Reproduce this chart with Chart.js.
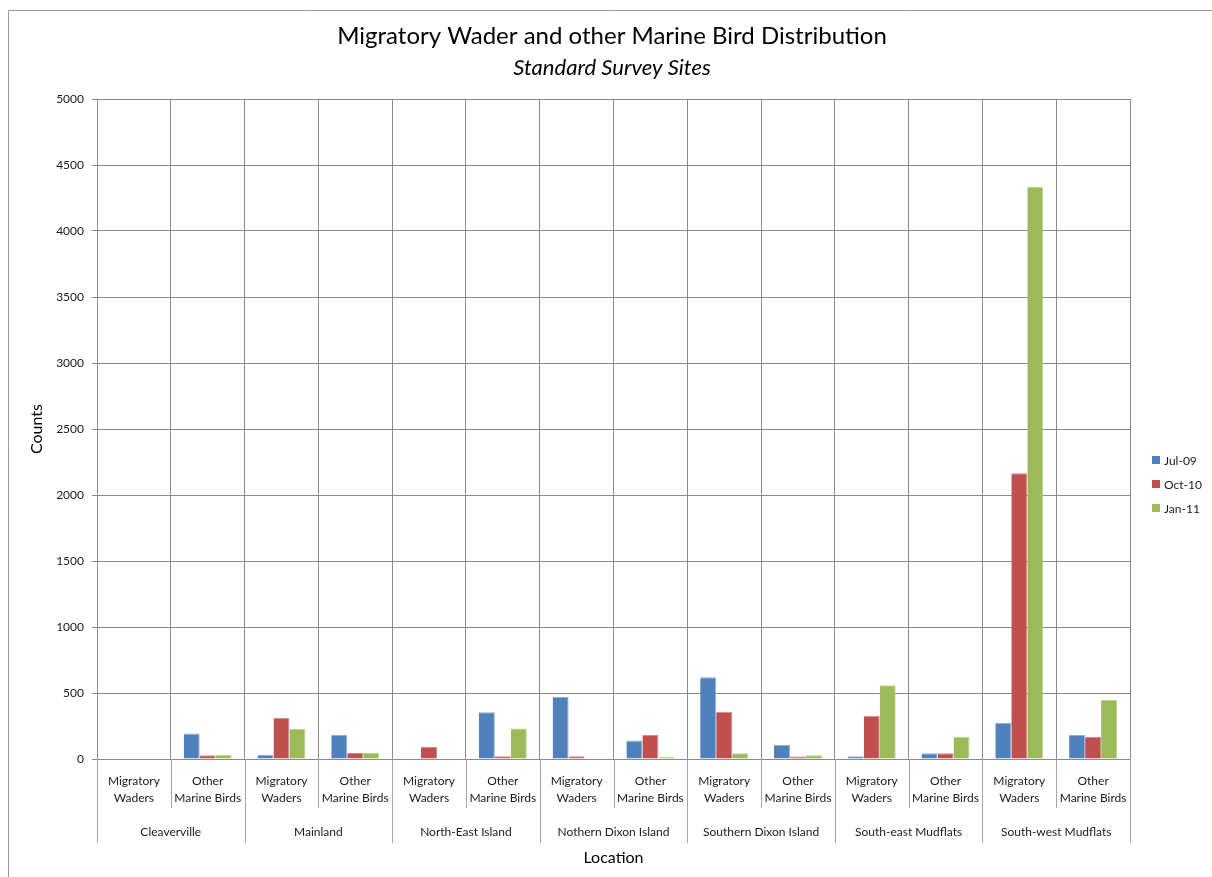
<!DOCTYPE html>
<html>
<head>
<meta charset="utf-8">
<script src="https://cdn.jsdelivr.net/npm/chart.js@4.4.1/dist/chart.umd.min.js"></script>
<style>
  html, body { margin: 0; padding: 0; background: #fff; overflow: hidden; }
  #wrap { width: 1212px; height: 877px; position: relative; }
</style>
</head>
<body>
<div id="wrap"><canvas id="c" width="1212" height="877"></canvas></div>
<script>
// Survey sites (outer category level) and bird groups (inner level)
const locations = ['Cleaverville', 'Mainland', 'North-East Island', 'Nothern Dixon Island',
                   'Southern Dixon Island', 'South-east Mudflats', 'South-west Mudflats'];
const birdGroups = [['Migratory', 'Waders'], ['Other', 'Marine Birds']];

// Survey rounds
const seriesNames = ['Jul-09', 'Oct-10', 'Jan-11'];

// Counts per location/bird group, in category order
const jul09 = [0, 194, 33, 182, 0, 354, 470, 141, 619, 106, 20, 43, 273, 182];
const oct10 = [0, 28, 313, 45, 91, 20, 20, 182, 358, 18, 328, 43, 2164, 167];
const jan11 = [0, 33, 227, 45, 0, 232, 0, 15, 43, 28, 558, 169, 4336, 447];

// Value axis range
const yMin = 0, yMax = 5000, yStep = 500;

const labels = [];
locations.forEach(() => birdGroups.forEach(g => labels.push(g)));

const FONT = 'Lato, "Open Sans", sans-serif';
const GRID = '#8a8a8a';
const fills = ['#4F81BD', '#C0504D', '#9BBB59'];
const edges = ['#8FADD6', '#D68886', '#BCD38F'];

// Frame, multi-level category separators, outer labels and legend
const decorations = {
  id: 'decorations',
  beforeDraw(chart) {
    const ctx = chart.ctx;
    ctx.save();
    ctx.strokeStyle = '#9a9a9a';
    ctx.lineWidth = 1;
    ctx.beginPath();
    ctx.moveTo(8.5, chart.height);
    ctx.lineTo(8.5, 10.5);
    ctx.lineTo(chart.width, 10.5);
    ctx.stroke();
    ctx.restore();
  },
  afterDraw(chart) {
    const ctx = chart.ctx;
    const x = chart.scales.x;
    const area = chart.chartArea;
    const half = (x.getPixelForValue(1) - x.getPixelForValue(0)) / 2;
    ctx.save();
    ctx.strokeStyle = '#a6a6a6';
    ctx.lineWidth = 1;
    for (let i = 0; i <= labels.length; i++) {
      const px = Math.round(i < labels.length ? x.getPixelForValue(i) - half
                                              : x.getPixelForValue(labels.length - 1) + half) + 0.5;
      const isGroupEdge = i % birdGroups.length === 0;
      ctx.beginPath();
      ctx.moveTo(px, area.bottom);
      ctx.lineTo(px, isGroupEdge ? 843 : 808);
      ctx.stroke();
    }
    ctx.fillStyle = '#1a1a1a';
    ctx.font = '12px ' + FONT;
    ctx.textAlign = 'center';
    ctx.textBaseline = 'middle';
    locations.forEach((name, g) => {
      const a = x.getPixelForValue(g * 2), b = x.getPixelForValue(g * 2 + 1);
      ctx.fillText(name, (a + b) / 2, 832);
    });
    // legend
    ctx.textAlign = 'left';
    chart.data.datasets.forEach((ds, i) => {
      const cy = 460 + i * 24;
      ctx.fillStyle = ds.backgroundColor;
      ctx.fillRect(1152, cy - 4, 8, 8);
      ctx.fillStyle = '#1a1a1a';
      ctx.fillText(ds.label, 1164, cy + 1);
    });
    ctx.restore();
  }
};

new Chart(document.getElementById('c'), {
  type: 'bar',
  data: {
    labels: labels,
    datasets: [jul09, oct10, jan11].map((d, i) => ({
      label: seriesNames[i],
      data: d,
      backgroundColor: fills[i],
      borderColor: edges[i],
      borderWidth: { top: 1, right: 1, left: 0, bottom: 0 },
      barPercentage: 1.0,
      categoryPercentage: 0.65
    }))
  },
  options: {
    responsive: false,
    animation: false,
    devicePixelRatio: 1,
    layout: { padding: { left: 12, right: 0, top: 0, bottom: 0 } },
    plugins: {
      legend: { display: false },
      tooltip: { enabled: false },
      title: {
        display: true,
        text: 'Migratory Wader and other Marine Bird Distribution',
        color: '#000',
        font: { family: FONT, size: 24, weight: 'normal', lineHeight: 1.2 },
        padding: { top: 22, bottom: 2 }
      },
      subtitle: {
        display: true,
        text: 'Standard Survey Sites',
        color: '#000',
        font: { family: FONT, size: 22, style: 'italic', weight: 'normal', lineHeight: 1.2 },
        padding: { top: 2, bottom: 17.8 }
      }
    },
    scales: {
      x: {
        offset: true,
        grid: { display: true, offset: true, color: GRID, drawTicks: false },
        border: { display: true, color: GRID },
        ticks: {
          color: '#1a1a1a',
          font: { family: FONT, size: 12, lineHeight: 1.4 },
          padding: 14,
          maxRotation: 0,
          minRotation: 0,
          autoSkip: false
        },
        title: {
          display: true,
          text: 'Location',
          color: '#000',
          font: { family: FONT, size: 16, lineHeight: 1.2 },
          padding: { top: 0, bottom: 10 }
        },
        afterFit(s) { s.height = 118; }
      },
      y: {
        min: yMin,
        max: yMax,
        grid: { color: GRID, tickLength: 5 },
        border: { display: true, color: GRID },
        ticks: {
          stepSize: yStep,
          color: '#1a1a1a',
          font: { family: FONT, size: 12 },
          padding: 8,
          callback: v => String(v)
        },
        title: {
          display: true,
          text: 'Counts',
          color: '#000',
          font: { family: FONT, size: 16, lineHeight: 1.2 },
          padding: { top: 15, bottom: 0 }
        },
        afterFit(s) { s.width = 85; }
      },
      legendSpace: {
        position: 'right',
        display: true,
        grid: { display: false },
        border: { display: false },
        ticks: { display: false },
        afterFit(s) { s.width = 82; }
      }
    }
  },
  plugins: [decorations]
});
</script>
</body>
</html>
